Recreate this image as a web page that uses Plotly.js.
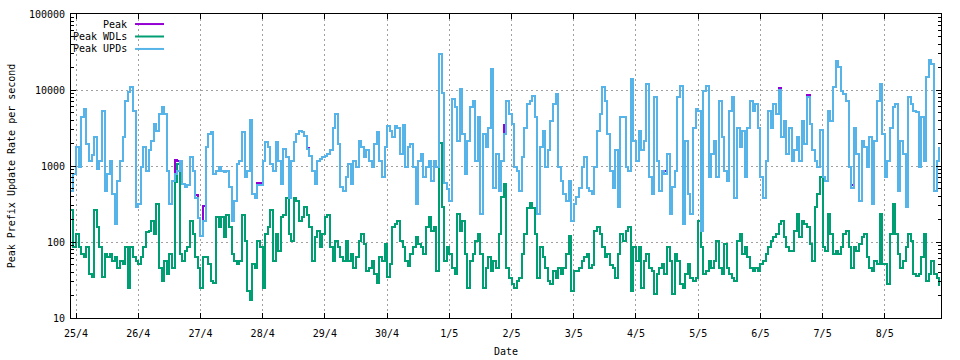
<!DOCTYPE html>
<html><head><meta charset="utf-8">
<script src="https://cdn.plot.ly/plotly-3.0.1.min.js"></script>
<style>html,body{margin:0;padding:0;background:#fff}#chart{width:960px;height:360px}
#chart path.js-line{shape-rendering:crispEdges}</style>
</head><body><div id="chart"></div>
<script>
// hourly samples starting 24/4 22:00
const startUTC = Date.UTC(2024, 3, 24, 22, 0, 0);
const seriesNames = ['Peak', 'Peak WDLs', 'Peak UPDs'];

const peakUPDs = [
  470, 790,
  1760,960,4400,5600,1950,1180,1400,2400,900,1180,5300,470,790,1180,430,172,640,1180,2400,7200,9300,11000,5300,290,
  316,960,1760,870,1600,2150,3600,2900,4800,5900,4800,870,316,640,790,870,1180,580,530,560,1300,870,385,210,
  121,190,1760,2650,2800,790,870,960,870,830,870,530,190,350,1060,1180,2800,710,870,4000,430,385,560,560,
  1180,2050,1760,1060,870,2050,1180,580,1670,1300,385,1180,2050,2650,2900,2800,2500,1670,1370,870,580,1180,1250,1300,
  1370,1450,1600,3200,4800,1950,530,470,710,1060,580,1180,960,2150,1760,1300,1600,1180,960,1950,2800,1180,710,1760,
  3400,2900,2400,3400,3200,1450,3500,960,1760,1950,960,316,1180,1450,710,960,1180,640,1180,960,30000,9000,600,500,
  350,7600,5900,2150,10300,2650,790,2150,5900,7200,1180,4400,233,2650,1760,3200,19000,520,1440,470,1180,2650,7200,4800,
  3570,960,870,470,1300,3200,6500,7200,8400,4400,233,1760,2900,960,1600,3950,6500,8900,960,640,430,350,640,190,
  316,390,520,960,1300,520,470,430,960,2900,4800,10800,7200,2650,870,520,1600,290,4400,4400,960,870,14000,2150,
  1180,2900,1600,2150,12000,710,430,8000,1180,470,870,790,1450,235,530,870,8000,11400,170,2150,430,235,3200,5600,
  5300,140,9800,11400,710,1450,2150,710,7200,2400,870,640,5300,8000,385,3200,1760,2900,710,3200,7200,5300,6500,3200,
  710,385,1180,5300,3200,6500,4800,10000,2400,3950,1450,3200,1180,1600,2400,1180,3950,1950,8000,3600,1600,1180,960,3000,
  710,640,5350,3950,10800,24000,20000,9800,8900,7200,960,520,3200,1440,350,2150,1760,960,2400,316,2150,7200,12000,2650,
  710,1180,3200,5900,6500,470,2150,1440,290,8000,6500,5350,5100,960,4400,1180,14700,25000,22000,470,1180,1760
];

const peakWDLs = [
  260, 85,
  127,85,69,63,85,38,35,260,156,85,35,69,63,69,57,63,46,57,52,85,25,85,63,57,
  52,63,85,134,140,190,127,316,46,31,57,38,69,46,620,1060,69,57,77,85,190,127,63,46,
  25,63,63,52,31,29,211,156,211,116,230,156,69,57,52,57,230,104,23,17,52,46,104,85,
  25,127,156,260,57,127,77,211,230,385,127,104,385,350,190,211,285,230,156,57,116,140,85,127,
  211,230,85,57,104,85,63,57,104,57,69,46,63,104,127,94,42,46,57,38,29,63,57,94,
  35,52,156,172,190,104,85,57,48,69,85,116,94,85,69,156,211,140,156,42,2000,285,57,85,
  70,46,38,233,140,190,70,25,57,70,104,127,70,25,46,63,42,57,46,127,387,580,46,34,
  28,25,31,34,70,127,280,330,280,127,34,85,63,46,31,28,42,34,46,38,46,70,120,23,
  42,42,46,57,63,70,46,50,140,156,127,85,63,70,50,46,34,70,127,104,140,156,23,85,
  57,85,25,57,70,46,42,21,38,46,52,38,85,57,21,70,57,28,25,38,52,34,31,34,
  190,85,38,42,57,46,57,104,46,38,94,46,38,34,31,104,127,70,85,63,46,42,46,42,
  52,57,70,85,104,115,127,172,190,115,85,77,77,140,233,115,190,172,156,94,57,286,427,710,
  85,77,233,127,70,77,70,85,127,140,85,46,85,77,94,115,127,63,46,42,57,52,233,52,
  52,28,127,316,127,70,46,57,85,127,104,38,36,38,63,127,31,38,57,38,34,26
];

const peakAll = [
  470, 790,
  1760,960,4400,5600,1950,1180,1400,2400,900,1180,5300,470,790,1180,430,172,640,1180,2400,7200,9300,11000,5300,290,
  316,960,1760,870,1600,2150,3600,2900,4800,5900,4800,870,316,640,1200,1150,1180,580,530,560,1300,870,420,210,
  121,300,1760,2650,2800,790,870,960,870,830,870,530,190,350,1060,1180,2800,710,870,4000,430,385,600,600,
  1180,2050,1760,1060,870,2050,1180,580,1670,1300,385,1180,2050,2650,2900,2800,2500,1750,1370,870,580,1180,1250,1300,
  1370,1450,1600,3200,4800,1950,530,470,710,1060,580,1180,960,2150,1760,1300,1600,1180,960,1950,2800,1180,710,1760,
  3400,2900,2400,3400,3200,1450,3500,960,1760,1950,960,316,1180,1450,710,960,1180,640,1180,960,30000,9000,600,500,
  350,7600,5900,2150,10300,2650,790,2150,5900,7200,1180,4400,233,2650,1760,3200,19000,520,1440,470,1180,3500,7200,4800,
  3570,960,870,470,1300,3200,6500,7200,8400,4400,233,1760,2900,960,1600,3950,6500,8900,960,640,430,350,640,190,
  316,390,520,960,1300,520,470,430,960,2900,4800,10800,7200,2650,870,520,1600,290,4400,4400,960,870,14000,2150,
  1180,2900,1600,2150,12000,710,430,8000,1180,470,870,850,1450,235,530,870,8000,11400,170,2150,430,235,3200,5600,
  5300,140,9800,11400,710,1450,2150,710,7200,2400,870,640,5300,8000,385,3200,1760,2900,710,3200,7200,5300,6500,3200,
  710,385,1180,5300,3200,6500,4800,10500,2400,3950,1450,3200,1180,1600,2400,1180,3950,1950,8600,3600,1600,1180,960,3000,
  710,640,5350,3950,10800,24000,20000,9800,8900,7200,960,560,3200,1440,350,2150,1760,960,2400,316,2150,7200,12000,2650,
  710,1180,3200,5900,6500,470,2150,1440,290,8000,6500,5350,5100,960,4400,1180,14700,25000,22000,470,1180,1760
];

const xTickDates = ['2024-04-25','2024-04-26','2024-04-27','2024-04-28','2024-04-29','2024-04-30','2024-05-01',
                    '2024-05-02','2024-05-03','2024-05-04','2024-05-05','2024-05-06','2024-05-07','2024-05-08'];
const xTickLabels = ['25/4','26/4','27/4','28/4','29/4','30/4','1/5','2/5','3/5','4/5','5/5','6/5','7/5','8/5'];
const yTickVals = [10, 100, 1000, 10000, 100000];
const yTickText = ['10', '100', '1000', '10000', '100000'];

const colors = ['#9400d3', '#009e73', '#56b4e9'];
const times = peakUPDs.map((_, i) => startUTC + i * 3600000);
const seriesData = [peakAll, peakWDLs, peakUPDs];

const traces = seriesData.map((vals, k) => ({
  type: 'scatter', mode: 'lines', name: seriesNames[k],
  x: times, y: vals,
  line: {color: colors[k], width: 2, shape: 'hv'},
  hoverinfo: 'x+y+name'
}));

const font = {family: 'DejaVu Sans Mono, monospace', size: 10, color: '#000'};
const gridStyle = {showgrid: true, gridcolor: '#a0a0a0', gridwidth: 1, griddash: '2px,3px'};

const legendRows = [0.967, 0.926, 0.885];
const annotations = seriesNames.map((n, k) => ({
  xref: 'paper', yref: 'paper', x: 0.0667, y: legendRows[k],
  xanchor: 'right', yanchor: 'middle', text: n, showarrow: false, font: font
}));
const shapes = seriesNames.map((n, k) => ({
  type: 'line', xref: 'paper', yref: 'paper',
  x0: 0.0736, x1: 0.1069, y0: legendRows[k], y1: legendRows[k],
  line: {color: colors[k], width: 2}
}));

const layout = {
  width: 960, height: 360,
  margin: {l: 71, r: 19, t: 14, b: 42, pad: 0},
  paper_bgcolor: '#fff', plot_bgcolor: '#fff',
  font: font,
  showlegend: false,
  xaxis: Object.assign({
    type: 'date',
    range: ['2024-04-24 22:04', '2024-05-08 21:40'],
    tickmode: 'array', tickvals: xTickDates, ticktext: xTickLabels,
    ticks: 'inside', ticklen: 5, tickcolor: '#000', tickwidth: 1,
    ticklabelstandoff: 6,
    showline: true, linecolor: '#000', linewidth: 1, mirror: 'allticks',
    zeroline: false, automargin: false,
    tickfont: font,
    title: {text: 'Date', font: font, standoff: 9}
  }, gridStyle),
  yaxis: Object.assign({
    type: 'log', range: [1, 5],
    tickmode: 'array', tickvals: yTickVals, ticktext: yTickText,
    ticks: 'inside', ticklen: 5, tickcolor: '#000', tickwidth: 1,
    ticklabelstandoff: 3,
    minor: {dtick: 'D1', ticks: 'inside', ticklen: 3, tickcolor: '#000', showgrid: false},
    showline: true, linecolor: '#000', linewidth: 1, mirror: 'allticks',
    zeroline: false, automargin: false,
    tickfont: font,
    title: {text: 'Peak Prefix Update Rate per second', font: font, standoff: 11}
  }, gridStyle),
  annotations: annotations,
  shapes: shapes
};

Plotly.newPlot('chart', traces, layout, {staticPlot: true, displayModeBar: false});
</script>
</body></html>
